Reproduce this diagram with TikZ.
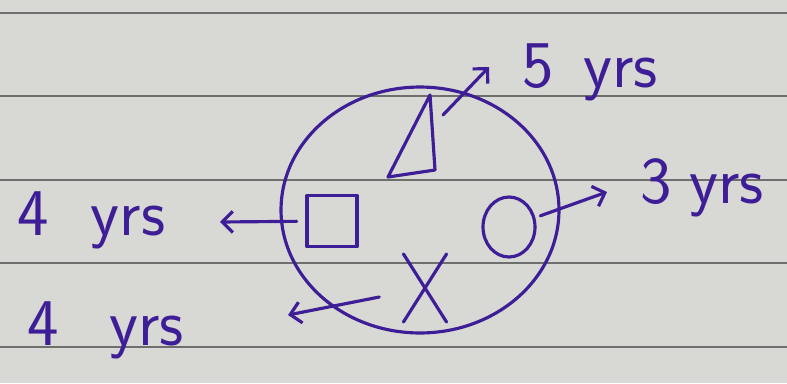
\documentclass[tikz,border=0pt]{standalone}
\usepackage{xcolor}
\usepackage{tikz}
\usetikzlibrary{arrows.meta,positioning,calc,shapes.geometric,shapes.misc}
\definecolor{inkc}{RGB}{62,30,150}
\definecolor{paper}{RGB}{216,216,212}
\definecolor{rulec}{RGB}{110,110,108}

\begin{document}
\begin{tikzpicture}[x=0.02cm,y=-0.02cm,>={Straight Barb[length=6pt,width=12pt]},
  ink/.style={draw=inkc,line width=1.8pt,line cap=round,line join=round},
  lbl/.style={text=inkc,font=\sffamily\fontsize{38}{40}\selectfont,inner sep=0pt}]
  \useasboundingbox (0,0) rectangle (787,383);
  \fill[paper] (0,0) rectangle (787,383);
  \foreach \y in {13,96,180,263,347} \draw[rulec,line width=1pt] (0,\y)--(787,\y);
  % the big ring and what sits in it
  \node[ink,ellipse,minimum width=5.56cm,minimum height=4.92cm](outer)at(420,210){};
  \coordinate(t1)at(430,95);\coordinate(t2)at(388,177);\coordinate(t3)at(435,170);
  \draw[ink](t1)--(t2)--(t3)--cycle;
  \node[ink,rectangle,minimum width=1cm,minimum height=1.02cm](sq)at(332,221){};
  \node[ink,ellipse,minimum width=1.04cm,minimum height=1.2cm](ci)at(509,227){};
  \node[ink,cross out,minimum width=0.8cm,minimum height=1.3cm](xx)at(425,288){};
  % labels
  \node[lbl,anchor=base west](l5)at(522,87){5\hspace{17pt}yrs};
  \node[lbl,anchor=base west](l3)at(640,203){3\hspace{10pt}yrs};
  \node[lbl,anchor=base west](l4a)at(17,235){4\hspace{24pt}yrs};
  \node[lbl,anchor=base west](l4b)at(27,345){4\hspace{29pt}yrs};
  % arrows
  \coordinate(s5)at(443,115);\coordinate(e5)at(489,67);
  \coordinate(e3)at(607,192);\coordinate(e4a)at(220,222);\coordinate(e4b)at(288,315);
  \draw[ink,->](s5)--(e5);
  \draw[ink,->,shorten <=3pt](ci)--(e3);
  \draw[ink,->,shorten <=5pt](sq)--(e4a);
  \draw[ink,->,shorten <=14pt](xx)--(e4b);
\end{tikzpicture}
\end{document}
